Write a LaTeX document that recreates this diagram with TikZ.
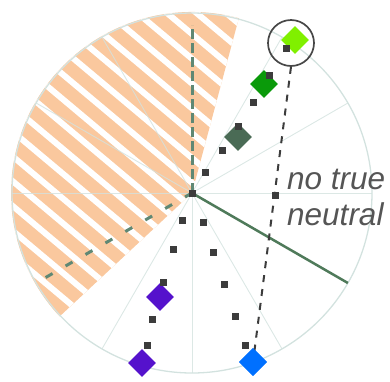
\documentclass[tikz,border=0pt]{standalone}
\usepackage{fontspec}
\setmainfont{Liberation Sans}
\usetikzlibrary{shapes.geometric,calc}
\definecolor{hatchorange}{HTML}{FAC89E}
\definecolor{rimgray}{HTML}{D3E2DF}
\definecolor{axisgreen}{HTML}{5F8874}
\definecolor{solidgreen}{HTML}{4F7A5A}
\definecolor{dotgray}{HTML}{3C3C3C}
\definecolor{lime}{HTML}{80F000}
\definecolor{leafgreen}{HTML}{0A9A0A}
\definecolor{mossgreen}{HTML}{4A6B55}
\definecolor{violet}{HTML}{5512CC}
\definecolor{skyblue}{HTML}{0070FF}
\definecolor{labelgray}{HTML}{555555}
\tikzset{
  spoke/.style={draw=rimgray, line width=0.9pt, opacity=0.8},
  rim/.style={draw=rimgray, line width=1.3pt},
  axisdash/.style={draw=axisgreen, line width=3pt, dash pattern=on 10pt off 4pt},
  axisdashb/.style={draw=axisgreen, line width=3pt, dash pattern=on 8pt off 15pt},
  solidaxis/.style={draw=solidgreen, line width=2.5pt},
  dot/.style={rectangle, fill=dotgray, minimum size=7pt, inner sep=0pt},
  gem/.style={diamond, aspect=1, minimum size=28pt, inner sep=0pt, fill=#1},
  ring/.style={circle, draw=black!72, line width=1.7pt, minimum size=46pt, inner sep=0pt},
  track/.style={draw=dotgray, line width=2pt, dash pattern=on 7pt off 7pt},
  caption/.style={font=\fontsize{31.5}{36}\selectfont\itshape, text=labelgray, inner sep=0pt, anchor=base west}
}
\begin{document}
\begin{tikzpicture}[x=1pt, y=-1pt]
\useasboundingbox (0,0) rectangle (390,381);
\coordinate (C) at (192,193);

% hatched sector
\begin{scope}
  \clip (C) -- ++(-75:181) arc[start angle=-75, end angle=-223, radius=181] -- cycle;
  \fill[hatchorange] (0,0) rectangle (390,381);
  \begin{scope}[shift={(C)}, rotate=-40]
    \foreach \k in {-14,...,14}
      \draw[white, line width=6pt] (-320,{\k*19-7.8}) -- (320,{\k*19-7.8});
  \end{scope}
\end{scope}

% spokes every 30 degrees
\foreach \a in {0,30,...,330}
  \coordinate (s\a) at ($(C)+(-\a:180)$);
\foreach \a in {0,30,60,120,150,180,240,270,300}
  \draw[spoke] (C) -- (s\a);
\draw[rim] (C) circle[radius=180];

% axes
\coordinate (up) at ($(C)+(-90:168)$);
\coordinate (dl) at ($(C)+(-210:170)$);
\draw[axisdash] (C) -- (up);
\draw[axisdashb] (C) -- (dl);
\draw[solidaxis] (C) -- (s330);

% ring and track line
\node[ring] (ring) at (291,43) {};
\node[gem=skyblue] (blue) at (253,362) {};
\draw[track] (ring.south) -- (blue.center);
\node[gem=skyblue] at (blue.center) {};

% diamonds
\node[gem=mossgreen] (g1) at (238,137) {};
\node[gem=leafgreen] (g2) at (264,84) {};
\node[gem=lime] (g3) at (295,40) {};
\node[gem=violet] (v1) at (160,297) {};
\node[gem=violet] (v2) at (142,363) {};

% step markers
\node[dot] (c0) at (C) {};
\foreach \p [count=\i] in {(205,172),(222,150),(238,126),(253,102),(269,75),(286,48)}
  \node[dot] (u\i) at \p {};
\foreach \p [count=\i] in {(203,222),(213,252),(224,284),(235,316),(245,345)}
  \node[dot] (d\i) at \p {};
\foreach \p [count=\i] in {(182,220),(173,249),(163,282),(152,319),(147,345)}
  \node[dot] (l\i) at \p {};
\node[dot] (t1) at (275,195) {};

% label
\node[caption] (cap1) at (287,189) {no true};
\node[caption] (cap2) at (287,225) {neutral};
\end{tikzpicture}
\end{document}
